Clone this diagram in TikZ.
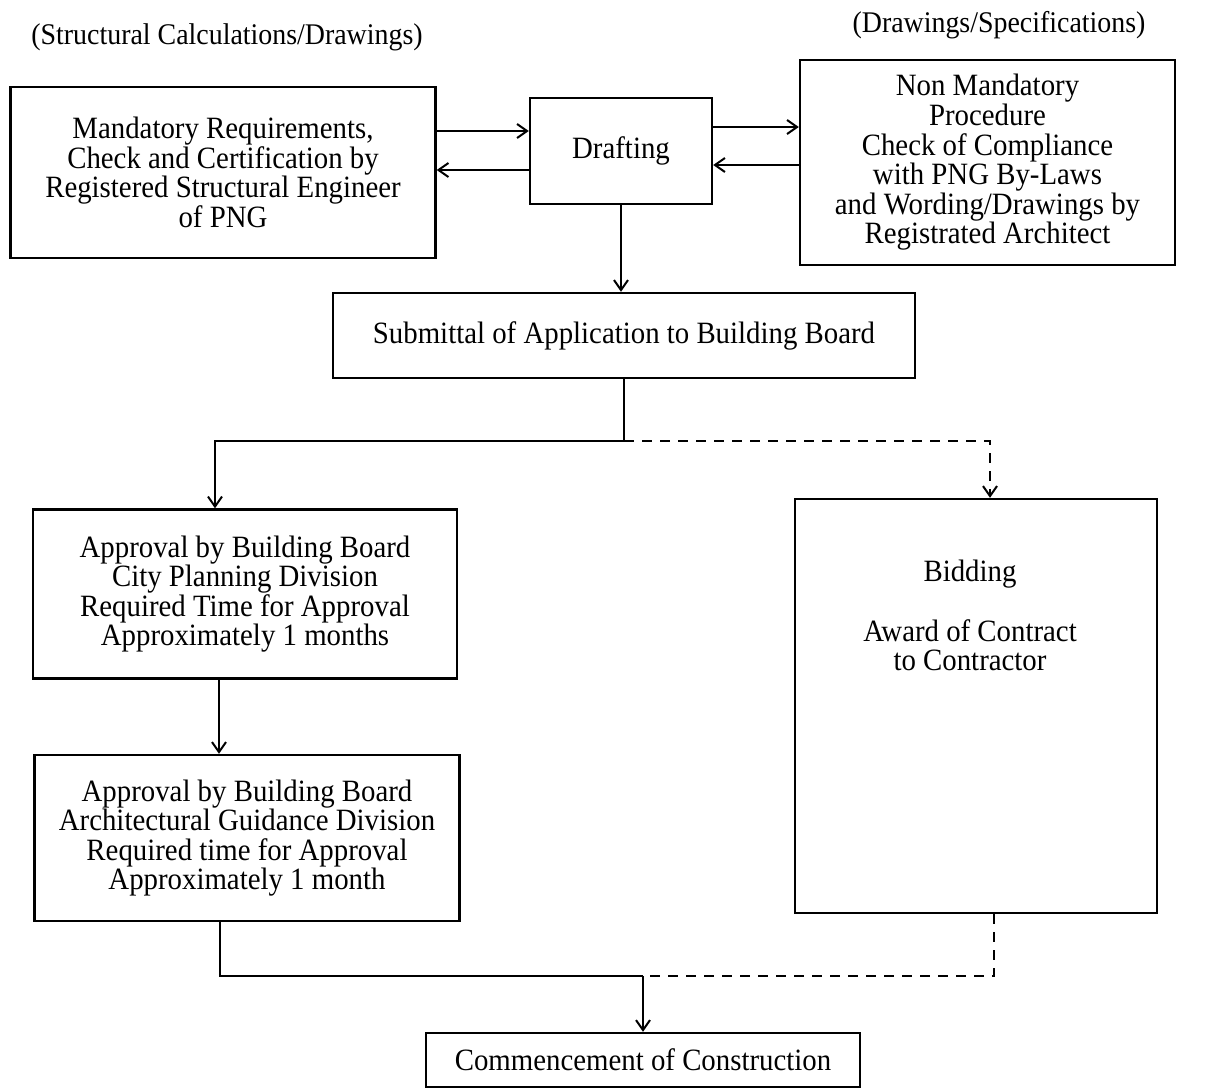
\documentclass[tikz,border=0pt]{standalone}
\usepackage{fontspec}
\setmainfont{Liberation Serif}[FakeStretch=0.93]
\usetikzlibrary{arrows.meta,calc}
\begin{document}
\begin{tikzpicture}[x=0.5pt,y=-0.5pt,
  box/.style={draw,line width=1.2pt,align=center,inner sep=0pt,
    font=\fontsize{15.5}{14.8}\selectfont},
  txt/.style={align=center,inner sep=0pt,font=\fontsize{15.5}{14.8}\selectfont},
  conn/.style={line width=1pt},
  arr/.style={conn,-{Straight Barb[length=5pt,width=7pt]}},
  dsh/.style={dash pattern=on 5pt off 4pt}]
\useasboundingbox[fill=white] (0,0) rectangle (1205,1089);

% titles
\node[txt,font=\fontsize{15}{14.5}\selectfont] (t1) at (227,37) {(Structural Calculations/Drawings)};
\node[txt,font=\fontsize{15}{14.5}\selectfont] (t2) at (999,25) {(Drawings/Specifications)};

% boxes
\node[box,minimum width=212.5pt,minimum height=85.5pt] (left) at (223,172.5)
  {Mandatory Requirements,\\Check and Certification by\\Registered Structural Engineer\\of PNG};
\node[box,minimum width=91pt,minimum height=53pt] (drafting) at (621,151) {Drafting};
\node[box,minimum width=187.5pt,minimum height=102.5pt] (right) at (987.5,162.5)
  {Non Mandatory\\Procedure\\Check of Compliance\\with PNG By-Laws\\and Wording/Drawings by\\Registrated Architect};
\node[box,minimum width=291pt,minimum height=42.5pt] (submittal) at (624,335.5)
  {Submittal of Application to Building Board};
\node[box,minimum width=212pt,minimum height=84.5pt] (app1) at (245,594)
  {Approval by Building Board\\City Planning Division\\Required Time for Approval\\Approximately 1 months};
\node[box,minimum width=212.5pt,minimum height=83pt] (app2) at (247,838)
  {Approval by Building Board\\Architectural Guidance Division\\Required time for Approval\\Approximately 1 month};
\node[box,minimum width=181pt,minimum height=207pt] (bidding) at (976,706) {};
\node[txt,anchor=north] (biddingtext) at (970,560)
  {Bidding\\[14.8pt]Award of Contract\\to Contractor};
\node[box,minimum width=217pt,minimum height=27pt] (commence) at (643,1060)
  {Commencement of Construction};

% connectors top
\draw[arr] ([yshift=10pt]drafting.west -| left.east) -- ([yshift=10pt]drafting.west);
\draw[arr] ([yshift=-9.5pt]drafting.west) -- ([yshift=-9.5pt]drafting.west -| left.east);
\draw[arr] ([yshift=12pt]drafting.east) -- ([yshift=12pt]drafting.east -| right.west);
\draw[arr] ([yshift=-7pt]drafting.east -| right.west) -- ([yshift=-7pt]drafting.east);
\draw[arr] (drafting.south) -- (drafting.south |- submittal.north);

% split
\coordinate (split) at ($(submittal.south)+(0pt,-31pt)$);
\draw[conn] (submittal.south) -- (split);
\draw[arr] (split) -| ([xshift=-15pt]app1.north);
\draw[arr,dsh] (split) -| ([xshift=7pt]bidding.north);
\draw[arr] ([xshift=-13pt]app1.south) -- ([xshift=-13pt]app1.south |- app2.north);

% join
\coordinate (join) at ($(commence.north)+(0pt,28pt)$);
\draw[conn] ([xshift=-13.5pt]app2.south) |- (join);
\draw[conn,dsh] ([xshift=9pt]bidding.south) |- (join);
\draw[arr] (join) -- (commence.north);
\end{tikzpicture}
\end{document}
